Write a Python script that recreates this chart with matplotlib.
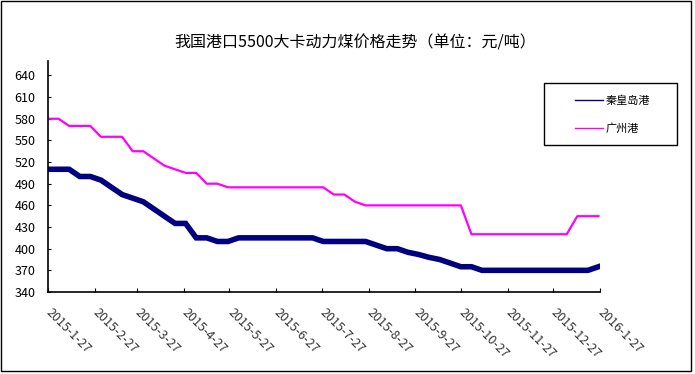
import pandas as pd
import matplotlib
matplotlib.use('Agg')
import matplotlib.pyplot as plt
from matplotlib.lines import Line2D
from matplotlib.patches import Rectangle

plt.rcParams['font.family'] = ['Noto Sans CJK SC', 'DejaVu Sans']

# Datos semanales
fechas = pd.date_range('2015-01-27', periods=53, freq='7D')
qinhuangdao = [510, 510, 510, 500, 500, 495, 485, 475, 470, 465, 455, 445, 435, 435,
               415, 415, 410, 410, 415, 415, 415, 415, 415, 415, 415, 415,
               410, 410, 410, 410, 410, 405, 400, 400, 395, 392, 388, 385, 380, 375, 375,
               370, 370, 370, 370, 370, 370, 370, 370, 370, 370, 370, 375]
guangzhou = [580, 580, 570, 570, 570, 555, 555, 555, 535, 535, 525, 515, 510, 505, 505, 490, 490,
             485, 485, 485, 485, 485, 485, 485, 485, 485, 485,
             475, 475, 465,
             460, 460, 460, 460, 460, 460, 460, 460, 460, 460,
             420, 420, 420, 420, 420, 420, 420, 420, 420, 420,
             445, 445, 445]
series_labels = ['秦皇岛港', '广州港']
titulo = '我国港口5500大卡动力煤价格走势（单位：元/吨）'
yticks = list(range(340, 641, 30))
xticks = [pd.Timestamp(2015, m, 27) for m in range(1, 13)] + [pd.Timestamp(2016, 1, 27)]
xtick_labels = [f'{d.year}-{d.month}-{d.day}' for d in xticks]

W, H = 695, 374
fig = plt.figure(figsize=(W / 100, H / 100), dpi=100)
ax = fig.add_axes([48 / W, (H - 292) / H, (600 - 48) / W, (292 - 61) / H])

ax.plot(fechas, qinhuangdao, color='#000080', lw=4, solid_joinstyle='miter')
ax.plot(fechas, guangzhou, color='#FF00FF', lw=1.6)

ax.set_xlim(xticks[0], xticks[-1])
ax.set_ylim(340, 660)
ax.set_yticks(yticks)
ax.set_xticks(xticks)
ax.set_xticklabels(xtick_labels, rotation=-45, ha='left', va='center',
                   rotation_mode='anchor', fontsize=9, color='#333333')
ax.tick_params(axis='y', direction='in', length=2, pad=9, labelsize=9)
ax.tick_params(axis='x', direction='in', length=3, pad=13)
for s in ['top', 'right']:
    ax.spines[s].set_visible(False)
for s in ['left', 'bottom']:
    ax.spines[s].set_linewidth(1.2)

fig.text(355 / W, 1 - 43 / H, titulo, ha='center', va='center', fontsize=11.5)

# Leyenda con marco manual
fig.patches.append(Rectangle((544 / W, 1 - 145 / H), (677 - 544) / W, (145 - 83) / H,
                             transform=fig.transFigure, fill=False, ec='black', lw=1))
handles = [Line2D([], [], color='#000080', lw=1), Line2D([], [], color='#FF00FF', lw=1)]
fig.legend(handles, series_labels, loc='upper left', bbox_to_anchor=(567 / W, 1 - 88 / H),
           frameon=False, fontsize=8, handlelength=2.5, handletextpad=0.3,
           labelspacing=1.5, borderpad=0.2)

# Marco exterior
fig.patches.append(Rectangle((1 / W, 3 / H), 690 / W, 370 / H,
                             transform=fig.transFigure, fill=False, ec='black', lw=1))

plt.savefig('out.png', dpi=100)
